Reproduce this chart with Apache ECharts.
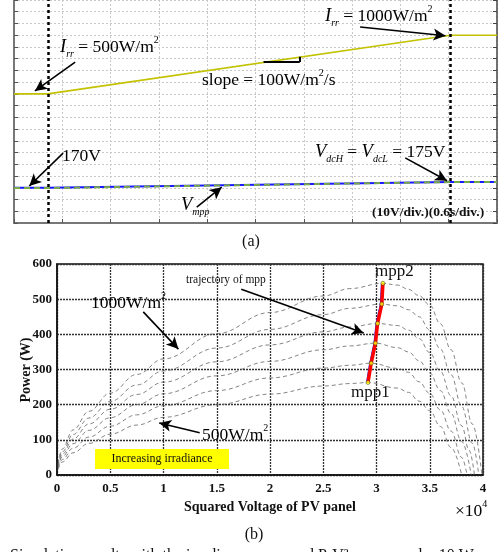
<!DOCTYPE html>
<html>
<head>
<meta charset="utf-8">
<script src="https://cdn.jsdelivr.net/npm/echarts@6/dist/echarts.min.js"></script>
<style>
  html, body { margin: 0; padding: 0; background: #fff; }
  #chart { width: 502px; height: 552px; }
</style>
</head>
<body>
<div id="chart"></div>
<script>
// ---- panel (a): time traces ----
var timeSec = [0, 0.42, 5.42, 6];
var irradiance = [500, 500, 1000, 1000];     // W/m2
var vdcLine = [170, 170, 175, 175];          // V
var vmppLine = [169.8, 169.8, 174.9, 174.9]; // V
var eventTimes = [0.42, 5.42];

// ---- panel (b): P vs V^2 (V^2 in 1e4 units) ----
var g500 = [[0.01,16],[0.05,37],[0.15,63],[0.3,90],[0.5,116],[0.75,142],[1,164],[1.5,200],[2,230],[2.5,253],[2.75,260],[2.92,263],[3.2,247],[3.3,235],[3.4,210],[3.5,183],[3.6,138],[3.7,78],[3.8,0]];
var g600 = [[0.01,20],[0.05,44],[0.15,76],[0.3,108],[0.5,139],[0.75,171],[1,197],[1.5,240],[2,276],[2.5,304],[2.75,312],[2.95,318],[3.2,303],[3.3,292],[3.4,265],[3.5,232],[3.6,185],[3.7,125],[3.8,50],[3.85,0]];
var g700 = [[0.01,23],[0.05,52],[0.15,89],[0.3,127],[0.5,163],[0.75,200],[1,231],[1.5,282],[2,323],[2.5,356],[2.75,367],[2.99,375],[3.2,362],[3.3,350],[3.4,325],[3.5,290],[3.6,240],[3.7,175],[3.8,95],[3.89,0]];
var g800 = [[0.01,26],[0.05,59],[0.15,102],[0.3,145],[0.5,187],[0.75,229],[1,264],[1.5,322],[2,370],[2.5,407],[2.75,421],[3.01,431],[3.2,425],[3.3,412],[3.4,388],[3.5,348],[3.6,295],[3.7,225],[3.8,140],[3.87,70],[3.92,0]];
var g900 = [[0.01,30],[0.05,66],[0.15,115],[0.3,162],[0.5,209],[0.75,256],[1,296],[1.5,361],[2,414],[2.5,456],[2.75,474],[3.05,486],[3.2,481],[3.3,470],[3.4,450],[3.5,412],[3.6,358],[3.7,285],[3.8,195],[3.9,90],[3.96,0]];
var g1000 = [[0.01,33],[0.05,74],[0.15,128],[0.3,181],[0.5,233],[0.75,286],[1,330],[1.5,402],[2,462],[2.5,509],[2.75,530],[3.06,545],[3.2,540],[3.3,528],[3.4,510],[3.5,483],[3.6,430],[3.7,356],[3.8,262],[3.9,145],[3.99,0]];
var mppV = [2.92, 2.95, 2.99, 3.01, 3.05, 3.06];
var mppP = [263, 318, 375, 431, 486, 545];

var serif = 'Liberation Serif';
var chart = echarts.init(document.getElementById('chart'));

function zip(xs, ys) {
  return xs.map(function (x, i) { return [x, ys[i]]; });
}
function arrow(a, b) {
  return [{ coord: a }, { coord: b }];
}
function curve(data) {
  return {
    type: 'line', xAxisIndex: 1, yAxisIndex: 2, data: data,
    symbol: 'none', smooth: 0.4, smoothMonotone: 'x', silent: true,
    lineStyle: { color: '#666', width: 0.8, type: [4, 3] }
  };
}
// rich text styles shared by the annotations
var rich = {
  n: { fontFamily: serif, fontSize: 17.5, lineHeight: 24, color: '#111' },
  i: { fontFamily: serif, fontSize: 18.5, fontStyle: 'italic', lineHeight: 24, color: '#111' },
  s: { fontFamily: serif, fontSize: 10, fontStyle: 'italic', lineHeight: 10, verticalAlign: 'bottom', color: '#111' },
  p: { fontFamily: serif, fontSize: 10, lineHeight: 10, verticalAlign: 'top', color: '#111' }
};
function label(x, y, text) {
  return { type: 'text', x: x, y: y, z: 100, style: { text: text, rich: rich, verticalAlign: 'top' } };
}
function plain(x, y, text, size, extra) {
  var st = { text: text, fontFamily: serif, fontSize: size, fill: '#111', verticalAlign: 'middle' };
  for (var k in extra) st[k] = extra[k];
  return { type: 'text', x: x, y: y, z: 100, style: st };
}

var option = {
  animation: false,
  backgroundColor: '#fff',
  grid: [
    { left: 14, top: 0, width: 483, height: 223 },
    { left: 57, top: 264, width: 426, height: 211, show: true, borderColor: '#111', borderWidth: 1.5 }
  ],
  xAxis: [
    {
      gridIndex: 0, type: 'value', min: 0, max: 6, interval: 0.6,
      axisLine: { onZero: false, lineStyle: { color: '#777', width: 2 } },
      axisTick: { inside: true, length: 4, lineStyle: { color: '#555' } },
      axisLabel: { show: false },
      splitLine: { show: true, lineStyle: { color: '#c8c8c8', type: [2, 2] } }
    },
    {
      gridIndex: 1, type: 'value', min: 0, max: 4, interval: 0.5,
      axisLine: { onZero: false, lineStyle: { color: '#111', width: 1.5 } },
      axisTick: { show: false },
      axisLabel: { fontFamily: serif, fontWeight: 'bold', fontSize: 13, color: '#111', margin: 7 },
      splitLine: { show: true, lineStyle: { color: '#333', width: 1.3, type: [2, 1] } }
    }
  ],
  yAxis: [
    {
      gridIndex: 0, type: 'value', min: 140, max: 330, interval: 10,
      axisLine: { show: true, onZero: false, lineStyle: { color: '#777', width: 2 } },
      axisTick: { show: true, inside: true, length: 4, lineStyle: { color: '#555' } },
      axisLabel: { show: false },
      splitLine: { show: true, lineStyle: { color: '#c8c8c8', type: [2, 2] } }
    },
    {
      gridIndex: 0, type: 'value', position: 'right', min: -600, max: 1300, interval: 100,
      axisLine: { show: true, onZero: false, lineStyle: { color: '#444', width: 1.5 } },
      axisTick: { show: true, inside: true, length: 4, lineStyle: { color: '#444' } },
      axisLabel: { show: false },
      splitLine: { show: false }
    },
    {
      gridIndex: 1, type: 'value', min: 0, max: 600, interval: 100,
      axisLine: { show: true, onZero: false, lineStyle: { color: '#111', width: 1.5 } },
      axisTick: { show: false },
      axisLabel: { fontFamily: serif, fontWeight: 'bold', fontSize: 13, color: '#111', margin: 5 },
      splitLine: { show: true, lineStyle: { color: '#333', width: 1.3, type: [2, 1] } }
    }
  ],
  series: [
    {
      name: 'Irr', type: 'line', xAxisIndex: 0, yAxisIndex: 1, data: zip(timeSec, irradiance),
      symbol: 'none', silent: true, lineStyle: { color: '#c2c200', width: 1.6 },
      markLine: {
        silent: true, symbol: 'none', label: { show: false },
        lineStyle: { color: '#000', width: 2.5, type: [3, 3] },
        data: eventTimes.map(function (t) { return { xAxis: t }; })
      }
    },
    {
      name: 'Vdc', type: 'line', xAxisIndex: 0, yAxisIndex: 0, data: zip(timeSec, vdcLine),
      symbol: 'none', silent: true, lineStyle: { color: '#1a1aff', width: 2 },
      markLine: {
        silent: true, symbol: ['none', 'arrow'], symbolSize: [9, 12], label: { show: false },
        lineStyle: { color: '#000', width: 1.6, type: 'solid' },
        data: [
          arrow([0.76, 277], [0.26, 252.5]),
          arrow([4.3, 307], [5.36, 299.5]),
          arrow([0.61, 199.5], [0.19, 171.5]),
          arrow([2.27, 153.5], [2.58, 170.5]),
          arrow([4.86, 195.5], [5.38, 176])
        ]
      }
    },
    {
      name: 'Vmpp', type: 'line', xAxisIndex: 0, yAxisIndex: 0, data: zip(timeSec, vmppLine),
      symbol: 'none', silent: true, lineStyle: { color: '#79a84a', width: 2, type: [6, 4] },
      markLine: {
        silent: true, symbol: 'none', label: { show: false },
        lineStyle: { color: '#000', width: 2, type: 'solid' },
        data: [
          [{ coord: [3.1, 277.2] }, { coord: [3.55, 277.2] }],
          [{ coord: [3.55, 277.2] }, { coord: [3.55, 281.6] }]
        ]
      }
    },
    curve(g500), curve(g600), curve(g700), curve(g800), curve(g900), curve(g1000),
    {
      type: 'line', xAxisIndex: 1, yAxisIndex: 2, data: zip(mppV, mppP).map(function (d) { return [d[0] - 0.012, d[1]]; }),
      symbol: 'none', silent: true, lineStyle: { color: '#2020ff', width: 1.5 }
    },
    {
      type: 'line', xAxisIndex: 1, yAxisIndex: 2, data: zip(mppV, mppP),
      symbol: 'none', silent: true, lineStyle: { color: '#ff0000', width: 3.5 },
      markLine: {
        silent: true, symbol: ['none', 'arrow'], symbolSize: [9, 12], label: { show: false },
        lineStyle: { color: '#000', width: 1.6, type: 'solid' },
        data: [
          arrow([1.73, 528], [2.88, 404]),
          arrow([0.81, 464], [1.14, 358]),
          arrow([1.34, 120], [0.96, 148])
        ]
      }
    },
    {
      type: 'scatter', xAxisIndex: 1, yAxisIndex: 2, data: zip(mppV, mppP),
      symbolSize: 4, silent: true, z: 5,
      itemStyle: { color: '#ffff00', borderColor: '#333', borderWidth: 0.6 }
    }
  ],
  graphic: [
    // panel (a) annotations
    label(60, 35, '{i|I}{s|rr}{n| = 500W/m}{p|2}'),
    label(325, 4, '{i|I}{s|rr}{n| = 1000W/m}{p|2}'),
    label(202, 68, '{n|slope = 100W/m}{p|2}{n|/s}'),
    label(62, 144, '{n|170V}'),
    label(315, 140, '{i|V}{s|dcH}{n| = }{i|V}{s|dcL}{n| = 175V}'),
    label(181, 193, '{i|V}{s|mpp}'),
    plain(372, 213, '(10V/div.)(0.6s/div.)', 13.5, { fontWeight: 'bold' }),
    plain(251, 242, '(a)', 16, { align: 'center' }),
    // panel (b) annotations
    plain(186, 280, 'trajectory of mpp', 11.5, {}),
    label(91, 291, '{n|1000W/m}{p|2}'),
    label(202, 423, '{n|500W/m}{p|2}'),
    plain(375, 272, 'mpp2', 17, {}),
    plain(351, 393, 'mpp1', 17, {}),
    {
      type: 'rect', z: 90, shape: { x: 95, y: 449, width: 134, height: 20 },
      style: { fill: '#ffff00' }
    },
    plain(162, 459, 'Increasing irradiance', 12, { align: 'center' }),
    plain(270, 507, 'Squared Voltage of PV panel', 14, { align: 'center', fontWeight: 'bold' }),
    {
      type: 'text', x: 26, y: 370, rotation: Math.PI / 2, z: 100,
      style: { text: 'Power (W)', fontFamily: serif, fontSize: 14, fontWeight: 'bold', fill: '#111', align: 'center', verticalAlign: 'middle' }
    },
    label(455, 499, '{n|\u00d710}{p|4}'),
    plain(254, 535, '(b)', 16, { align: 'center' }),
    plain(10, 548, 'Simulation results with the irradiance ramp and P-V\u00b2 curves under 10 W', 16, { verticalAlign: 'top' })
  ]
};
chart.setOption(option);
</script>
</body>
</html>
